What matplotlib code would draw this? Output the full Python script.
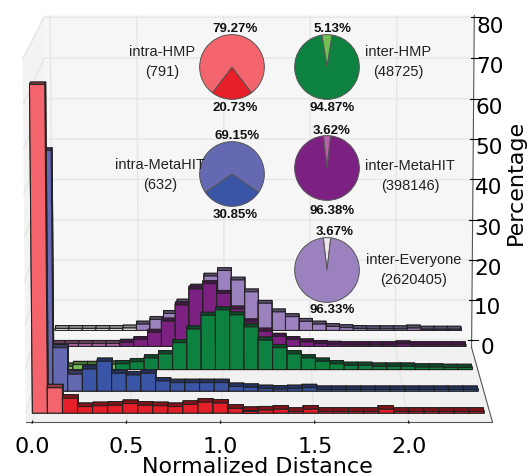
import matplotlib

matplotlib.use("Agg")
import matplotlib.pyplot as plt
import numpy as np

W, H = 527, 477
BIN = 0.08
BAR_DEPTH = 0.045

red = [74.5, 5.8, 3.4, 1.5, 1.7, 1.8, 2.2, 1.8, 1.7, 1.5, 2.0, 2.5, 2.3, 1.1, 0.6,
       0.7, 0.9, 0.4, 0.9, 0.4, 0.4, 0.4, 0.4, 0.9, 0.4, 0.4, 0.4, 0.4, 0.4, 0.4]
blue = [56.2, 10.2, 4.0, 5.2, 7.0, 4.2, 3.8, 4.2, 2.4, 2.0, 2.0, 2.0, 2.0, 1.1, 0.9,
        0.6, 0.5, 0.6, 0.8, 0.4, 0.4, 0.4, 0.4, 0.4, 0.4, 0.4, 0.4, 0.4, 0.4, 0.4]
green = [0.6, 0.8, 1.2, 1.2, 1.3, 1.4, 1.9, 2.8, 3.8, 6.5, 9.8, 13.1, 14.4, 13.2, 10.3,
         7.1, 5.3, 3.8, 2.8, 2.0, 1.4, 1.0, 1.0, 0.8, 0.8, 0.8, 0.6, 0.6, 0.5, 0.5]
purple = [0.7, 0.7, 0.7, 0.7, 0.7, 1.0, 1.7, 3.5, 6.3, 10.3, 14.3, 15.6, 13.2, 9.3, 6.1,
          3.8, 2.5, 1.7, 1.1, 0.7, 0.5, 0.4, 0.4, 0.4, 0.4, 0.6, 0.4, 0.4, 0.4, 0.4]
pale = [0.5, 0.5, 0.5, 0.5, 0.5, 0.6, 1.6, 2.8, 4.3, 7.2, 11.0, 13.8, 15.2, 12.8, 9.8,
        6.9, 4.7, 3.5, 2.3, 1.6, 1.0, 0.7, 0.5, 0.4, 0.4, 0.4, 0.6, 0.3, 0.3, 0.3]

# name, values, light colour, dark colour, depth, number of light bins
series = [
    ("pale", pale, "#efe6ef", "#9b82bf", 1.14, 6),
    ("purple", purple, "#b565a7", "#7c2181", 0.90, 5),
    ("green", green, "#71bf55", "#0d8140", 0.57, 5),
    ("blue", blue, "#6569b2", "#3a55a5", 0.28, 3),
    ("red", red, "#f4646c", "#e51e28", 0.0, 2),
]

pie_names = ["intra-HMP\n(791)", "inter-HMP\n(48725)", "intra-MetaHIT\n(632)",
             "inter-MetaHIT\n(398146)", "inter-Everyone\n(2620405)"]
pie_values = [(79.27, 20.73), (94.87, 5.13), (69.15, 30.85), (96.38, 3.62), (96.33, 3.67)]
pie_colors = [("#f4646c", "#e51e28"), ("#0d8140", "#71bf55"), ("#6569b2", "#3a55a5"),
              ("#7c2181", "#b565a7"), ("#9b82bf", "#efe6ef")]
pie_centers = [(232, 68, 33), (327, 68, 33), (232, 175, 33), (327, 169, 33), (327, 271, 33)]
pie_label_xy = [(162, 62), (398, 62), (160, 175), (410, 176), (414, 270)]
pct_xy = [((235, 29), (235, 108)), ((332, 108), (332, 29)), ((237, 136), (235, 215)),
          ((332, 211), (332, 131)), ((332, 310), (335, 232))]


def fx(px):
    return px / W


def fy(py):
    return 1 - py / H


def shade(color, factor=0.6):
    rgb = np.array(matplotlib.colors.to_rgb(color))
    return tuple(rgb * factor)


fig = plt.figure(figsize=(W / 100, H / 100), dpi=100)
size = 493
ax = fig.add_axes(
    [fx(252.5 - size / 2), fy(218 + size / 2), size / W, size / H],
    projection="3d",
    computed_zorder=False,
)
aspect = np.array([1.68, 1.43, 1.32])
ax.set_box_aspect(aspect, zoom=np.linalg.norm(aspect) / (1.8294640721620434 * 25 / 24))
ax.set_proj_type("persp", focal_length=1.5)
ax.view_init(elev=8.8, azim=-90)
ax.set_xlim(-0.035, 2.445)
ax.set_ylim(0, 1)
ax.set_zlim(-2, 80.5)

for order, (name, values, light, dark, depth, n_light) in enumerate(series):
    for i, value in enumerate(values):
        base = light if i < n_light else dark
        # bottom, top, front, back, left, right
        face_colors = [base, shade(base), base, base, shade(base), shade(base)]
        # outer bars first so that their inner sides stay behind the next front
        center_offset = abs((i + 0.5) * BIN - 1.2)
        ax.bar3d(
            i * BIN,
            depth,
            0,
            BIN,
            BAR_DEPTH,
            value,
            color=face_colors,
            shade=False,
            edgecolor="#222222",
            linewidth=0.75,
            zorder=(order + 1) * 10 - center_offset,
        )

ax.set_xticks([0.0, 0.5, 1.0, 1.5, 2.0])
ax.set_zticks(np.arange(0, 81, 10))
ax.set_yticks([])
ax.tick_params(axis="x", labelsize=16, pad=-2)
ax.tick_params(axis="z", labelsize=15.5, pad=-1)
for axis, pane in ((ax.xaxis, "#f3f3f3"), (ax.yaxis, "#f6f6f6"), (ax.zaxis, "#f1f1f1")):
    axis.set_pane_color(pane)
    axis.pane.set_edgecolor("none")
    axis._axinfo["grid"]["color"] = "#e6e6e6"
    axis._axinfo["grid"]["linewidth"] = 1.0
    axis.line.set_color("#555555")

for (cx, cy, r), values, colors in zip(pie_centers, pie_values, pie_colors):
    pie_ax = fig.add_axes([fx(cx - r), fy(cy + r), 2 * r / W, 2 * r / H])
    small = values[1]
    start = 90 - small * 1.8 if colors[1] in ("#71bf55", "#b565a7", "#efe6ef") else 270 - small * 1.8
    pie_ax.pie(
        values[::-1],
        colors=colors[::-1],
        startangle=start,
        counterclock=True,
        radius=1.0,
        wedgeprops={"edgecolor": "#555555", "linewidth": 0.7},
    )
    pie_ax.set_xlim(-1.02, 1.02)
    pie_ax.set_ylim(-1.02, 1.02)
    pie_ax.patch.set_visible(False)

sans = ["Liberation Sans", "DejaVu Sans"]
for label, (px, py) in zip(pie_names, pie_label_xy):
    fig.text(fx(px), fy(py), label, ha="center", va="center", fontsize=10.5,
             family=sans, color="#222222", linespacing=1.5)
for values, positions in zip(pie_values, pct_xy):
    for value, (px, py) in zip(values, positions):
        fig.text(fx(px), fy(py), f"{value:.2f}%", ha="center", va="center", fontsize=9.5,
                 family=sans, fontweight="bold", color="#111111")

fig.text(fx(257), fy(467), "Normalized Distance", ha="center", va="center", fontsize=16)
fig.text(fx(516), fy(182), "Percentage", ha="center", va="center", rotation=90, fontsize=16)

fig.savefig("out.png", dpi=100, facecolor="white")
